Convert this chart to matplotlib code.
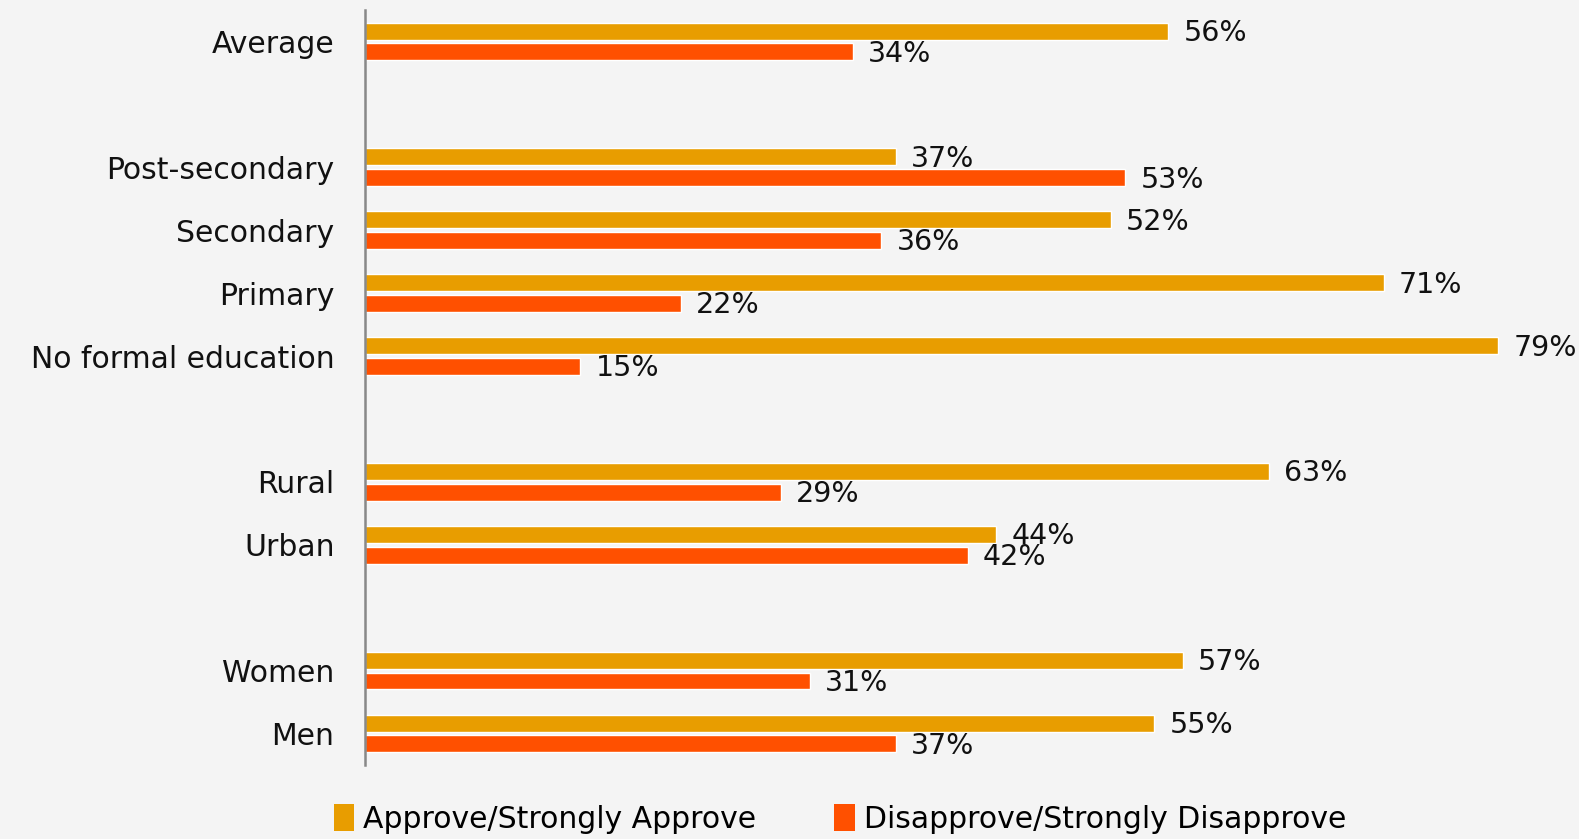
import matplotlib.pyplot as plt
from matplotlib.patches import Patch

# slots (empty strings are the gaps between groups), top to bottom
categories = ["Average", "", "Post-secondary", "Secondary", "Primary",
              "No formal education", "", "Rural", "Urban", "", "Women", "Men"]
approve = [56, None, 37, 52, 71, 79, None, 63, 44, None, 57, 55]
disapprove = [34, None, 53, 36, 22, 15, None, 29, 42, None, 31, 37]

series_names = ["Approve/Strongly Approve", "Disapprove/Strongly Disapprove"]
APPROVE_COLOR = "#E89D00"
DISAPPROVE_COLOR = "#FF5000"
BG = "#f4f4f4"

plt.rcParams['font.family'] = ['DejaVu Sans']

W, H = 1579, 839
fig = plt.figure(figsize=(W / 100, H / 100), dpi=100, facecolor=BG)
ax = fig.add_axes([365 / W, 1 - 765 / H, 1205 / W, 755 / H])
ax.set_facecolor(BG)

bar_h = 0.27
off = 0.165
for i, (a, d) in enumerate(zip(approve, disapprove)):
    if a is None:
        continue
    ax.barh(i - off, a, height=bar_h, color=APPROVE_COLOR, edgecolor="white", linewidth=1)
    ax.barh(i + off, d, height=bar_h, color=DISAPPROVE_COLOR, edgecolor="white", linewidth=1)
    ax.annotate(f"{a}%", (a, i - off + 0.03), xytext=(11, 0), textcoords="offset points",
                ha="left", va="center", fontsize=20.5, color="#111111")
    ax.annotate(f"{d}%", (d, i + off + 0.03), xytext=(11, 0), textcoords="offset points",
                ha="left", va="center", fontsize=20.5, color="#111111")

ax.set_xlim(0, 84)
ax.set_ylim(len(categories) - 0.5, -0.5)
ax.set_yticks(range(len(categories)))
ax.set_yticklabels(categories, fontsize=21.5, color="#111111")
ax.tick_params(axis="y", length=0, pad=22)
ax.set_xticks([])

for s in ["top", "right", "bottom"]:
    ax.spines[s].set_visible(False)
ax.spines["left"].set_color("#888888")
ax.spines["left"].set_linewidth(1.8)

handles = [Patch(facecolor=APPROVE_COLOR), Patch(facecolor=DISAPPROVE_COLOR)]
fig.legend(handles, series_names, loc="center", bbox_to_anchor=(840 / W, 1 - 819 / H),
           ncol=2, frameon=False, fontsize=21.5, handlelength=0.7, handleheight=1.0,
           handletextpad=0.3, columnspacing=2.6)

fig.savefig("out.png", dpi=100, facecolor=BG)
